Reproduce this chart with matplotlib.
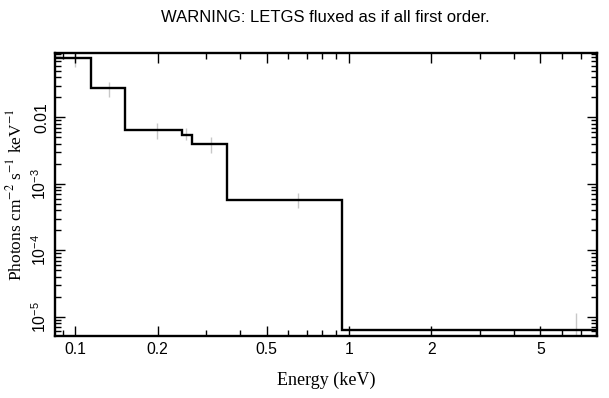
import matplotlib
matplotlib.use("Agg")
import matplotlib.pyplot as plt
import numpy as np
from matplotlib.ticker import LogLocator, NullFormatter

plt.rcParams['mathtext.fontset'] = 'custom'
plt.rcParams['mathtext.rm'] = 'Liberation Sans'
plt.rcParams['mathtext.it'] = 'Liberation Sans:italic'
plt.rcParams['mathtext.bf'] = 'Liberation Sans:bold'

# Model step (bin edges in keV, flux per bin)
bin_edges = [0.08, 0.114, 0.152, 0.245, 0.267, 0.360, 0.940, 9.0]
model_flux = [0.0771, 0.0279, 0.00651, 0.00547, 0.00397, 5.71e-4, 6.3e-6]

# Data points error bars (energy, lower, upper)
data_energy = [0.100, 0.1334, 0.1988, 0.254, 0.313, 0.650, 6.72]
data_low = [0.0577, 0.0204, 0.00472, 0.00456, 0.00294, 4.33e-4, 3e-6]
data_high = [0.0895, 0.0343, 0.0082, 0.0069, 0.00506, 7.27e-4, 1.15e-5]

xticks = [0.1, 0.2, 0.5, 1, 2, 5]
xticklabels = ['0.1', '0.2', '0.5', '1', '2', '5']
yticks = [1e-5, 1e-4, 1e-3, 1e-2]
yticklabels = [r'$10^{-5}$', r'$10^{-4}$', r'$10^{-3}$', '0.01']

fig = plt.figure(figsize=(6.09, 3.98), dpi=100)
ax = fig.add_axes([55/609, 1-336/398, (597-55)/609, (336-53)/398])

ax.vlines(data_energy, data_low, data_high, color='#c8c8c8', lw=1.0, zorder=1)
ax.stairs(model_flux, bin_edges, color='black', lw=1.7, zorder=2, baseline=None)

ax.set_xscale('log')
ax.set_yscale('log')
ax.set_xlim(0.0845, 8.04)
ax.set_ylim(5.13e-6, 0.0927)

ax.set_xticks(xticks)
ax.set_xticklabels(xticklabels, fontfamily='Liberation Sans', fontsize=11.3)
ax.xaxis.set_minor_locator(LogLocator(base=10, subs=np.arange(2, 10)))
ax.xaxis.set_minor_formatter(NullFormatter())
ax.set_yticks(yticks)
ax.set_yticklabels(yticklabels, fontfamily='Liberation Sans', fontsize=11.3,
                   rotation=90, va='center')
ax.yaxis.set_minor_locator(LogLocator(base=10, subs=np.arange(2, 10)))
ax.yaxis.set_minor_formatter(NullFormatter())

ax.tick_params(which='both', direction='in', top=True, right=True, width=1.0)
ax.tick_params(which='major', length=7, pad=4)
ax.tick_params(which='minor', length=4)
for s in ax.spines.values():
    s.set_linewidth(1.7)

ax.set_xlabel('Energy (keV)', fontfamily='Liberation Serif', fontsize=13, labelpad=11)
ax.set_ylabel(r'Photons cm$^{-2}$ s$^{-1}$ keV$^{-1}$', fontfamily='Liberation Serif',
              fontsize=12.5, math_fontfamily='stix', labelpad=4)

fig.text(325/609, 1-18/398, 'WARNING: LETGS fluxed as if all first order.',
         ha='center', va='center', fontfamily='Liberation Sans', fontsize=12)

fig.savefig('out.png', dpi=100)
